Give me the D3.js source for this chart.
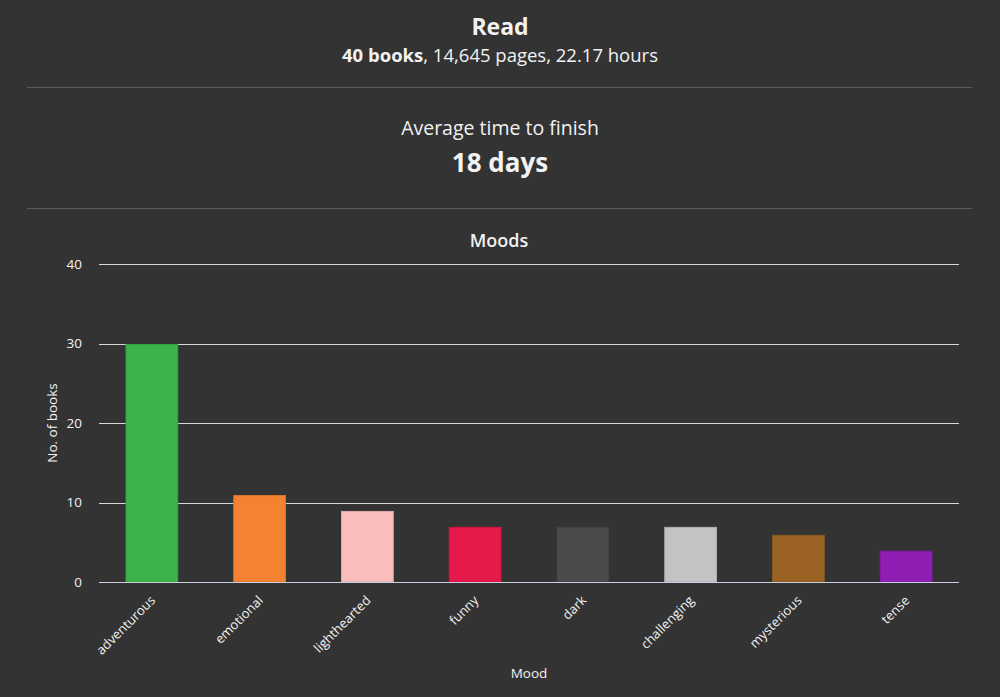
<!DOCTYPE html>
<html>
<head>
<meta charset="utf-8">
<script src="https://cdn.jsdelivr.net/npm/d3@7"></script>
<style>
  html, body { margin: 0; padding: 0; background: #333333; }
  svg { display: block; font-family: "Open Sans", sans-serif; }
</style>
</head>
<body>
<svg></svg>
<script>
const moods = ["adventurous", "emotional", "lighthearted", "funny", "dark", "challenging", "mysterious", "tense"]
const bookCounts = [30, 11, 9, 7, 7, 7, 6, 4]
const barColors = ["#3cb44b", "#f58231", "#fabebe", "#e6194b", "#4b4b4b", "#c3c3c3", "#9a6324", "#911eb4"]
const yTicks = [0, 10, 20, 30, 40]

const svg = d3.select("svg")
    .attr("width", 1000)
    .attr("height", 697)

svg.append("rect")
    .attr("width", 1000)
    .attr("height", 697)
    .attr("fill", "#333333")

// header stats
svg.append("text")
    .attr("x", 500).attr("y", 35)
    .attr("text-anchor", "middle")
    .attr("fill", "#f2f2f2")
    .style("font-size", "23px")
    .style("font-weight", "bold")
    .text("Read")

const sub = svg.append("text")
    .attr("x", 500).attr("y", 62)
    .attr("text-anchor", "middle")
    .attr("fill", "#f2f2f2")
    .style("font-size", "18.5px")
sub.append("tspan").style("font-weight", "bold").text("40 books")
sub.append("tspan").text(", 14,645 pages, 22.17 hours")

svg.selectAll("line.sep")
    .data([87.5, 208.5])
    .enter()
    .append("line")
    .attr("class", "sep")
    .attr("x1", 27).attr("x2", 972)
    .attr("y1", d => d).attr("y2", d => d)
    .attr("stroke", "#5a5a5a")

svg.append("text")
    .attr("x", 500).attr("y", 135)
    .attr("text-anchor", "middle")
    .attr("fill", "#f2f2f2")
    .style("font-size", "19.5px")
    .text("Average time to finish")

svg.append("text")
    .attr("x", 500).attr("y", 172)
    .attr("text-anchor", "middle")
    .attr("fill", "#f2f2f2")
    .style("font-size", "26px")
    .style("font-weight", "bold")
    .text("18 days")

svg.append("text")
    .attr("x", 499).attr("y", 247)
    .attr("text-anchor", "middle")
    .attr("fill", "#f2f2f2")
    .style("font-size", "18px")
    .style("font-weight", "600")
    .text("Moods")

// chart
const plotLeft = 99, plotRight = 959, plotTop = 264, plotBottom = 582

const x = d3.scaleBand()
    .domain(moods)
    .range([plotLeft - 1, plotRight + 1])
    .paddingInner(0.52)
    .paddingOuter(0.26)

const y = d3.scaleLinear()
    .domain([0, 40])
    .range([plotBottom, plotTop])

const grid = svg.append("g")
grid.selectAll("line")
    .data(yTicks.slice(1))
    .enter()
    .append("line")
    .attr("x1", plotLeft).attr("x2", plotRight)
    .attr("y1", d => Math.round(y(d)) + 0.5)
    .attr("y2", d => Math.round(y(d)) + 0.5)
    .attr("stroke", "#d8d8d8")

svg.append("g")
    .selectAll("rect")
    .data(bookCounts)
    .enter()
    .append("rect")
    .attr("x", (d, i) => x(moods[i]))
    .attr("y", d => y(d) + 1)
    .attr("width", x.bandwidth())
    .attr("height", d => plotBottom - y(d) - 1)
    .attr("fill", (d, i) => barColors[i])
    .attr("stroke", (d, i) => d3.color(barColors[i]).darker(0.3))
    .attr("stroke-width", 1)

svg.append("line")
    .attr("x1", plotLeft).attr("x2", plotRight)
    .attr("y1", plotBottom + 0.5).attr("y2", plotBottom + 0.5)
    .attr("stroke", "#c9cfe3")

const yAxis = svg.append("g")
    .attr("transform", `translate(${plotLeft},0)`)
    .call(d3.axisLeft(y).tickValues(yTicks).tickSize(0).tickPadding(17))
yAxis.select(".domain").remove()
yAxis.selectAll("text")
    .attr("fill", "#f2f2f2")
    .style("font-size", "13.5px")
    .style("font-family", "Open Sans, sans-serif")

const xAxis = svg.append("g")
    .attr("transform", `translate(0,${plotBottom})`)
    .call(d3.axisBottom(x).tickSize(0))
xAxis.select(".domain").remove()
xAxis.selectAll("text")
    .attr("fill", "#f2f2f2")
    .style("font-size", "13px")
    .style("font-family", "Open Sans, sans-serif")
    .attr("text-anchor", "end")
    .attr("dy", "0.35em")
    .attr("transform", "translate(1,16) rotate(-45)")
    .attr("y", 0)

svg.append("text")
    .attr("transform", `translate(57,${(plotTop + plotBottom) / 2}) rotate(-90)`)
    .attr("text-anchor", "middle")
    .attr("fill", "#f2f2f2")
    .style("font-size", "13.5px")
    .text("No. of books")

svg.append("text")
    .attr("x", 529).attr("y", 678)
    .attr("text-anchor", "middle")
    .attr("fill", "#f2f2f2")
    .style("font-size", "13.5px")
    .text("Mood")
</script>
</body>
</html>
